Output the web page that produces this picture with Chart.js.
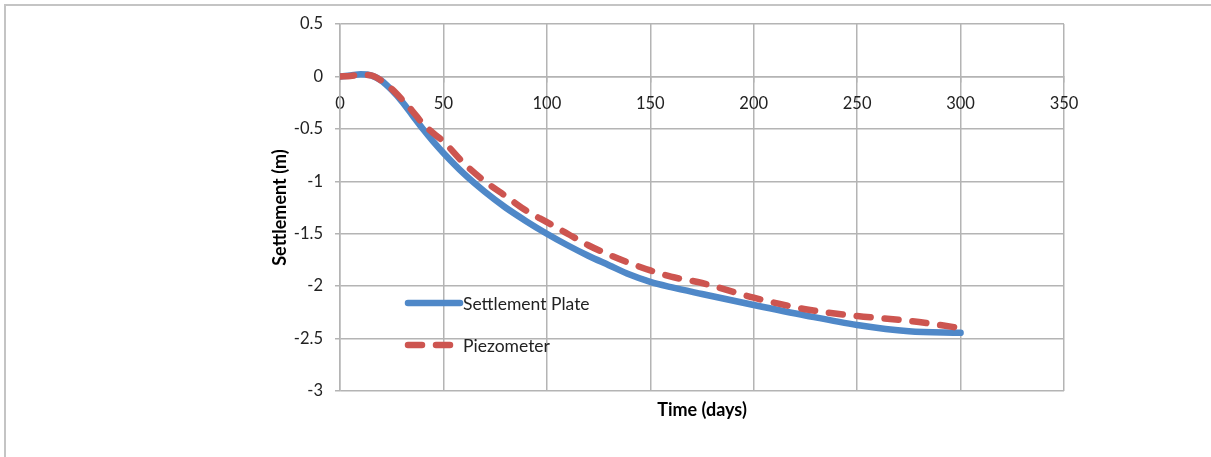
<!DOCTYPE html>
<html>
<head>
<meta charset="utf-8">
<script src="https://cdn.jsdelivr.net/npm/chart.js@4.4.1/dist/chart.umd.min.js"></script>
<style>
  html, body { margin: 0; padding: 0; background: #fff; }
  #wrap { position: relative; width: 1211px; height: 457px; }
  #frame { position: absolute; left: 4px; top: 4px; width: 1220px; height: 470px; border-top: 2px solid #c4c4c4; border-left: 2px solid #c4c4c4; box-sizing: border-box; pointer-events: none; }
  canvas { position: absolute; left: 0; top: 0; }
</style>
</head>
<body>
<div id="wrap">
  <canvas id="c" width="1211" height="457"></canvas>
  <div id="frame"></div>
</div>
<script>
const days = [0, 5, 10, 15, 20, 25, 30, 35, 40, 45, 50, 60, 70, 80, 90, 100, 110, 120, 130, 140, 150, 160, 175, 200, 225, 250, 275, 300];
const settlementPlate = [0, 0.01, 0.02, 0.01, -0.04, -0.13, -0.24, -0.37, -0.5, -0.62, -0.73, -0.93, -1.1, -1.25, -1.38, -1.5, -1.61, -1.71, -1.8, -1.89, -1.96, -2.01, -2.075, -2.18, -2.28, -2.37, -2.43, -2.445];
const piezometer = [0, 0.005, 0.015, 0.01, -0.04, -0.12, -0.22, -0.33, -0.45, -0.54, -0.62, -0.83, -1.0, -1.14, -1.28, -1.39, -1.5, -1.61, -1.7, -1.78, -1.85, -1.91, -1.97, -2.11, -2.22, -2.285, -2.33, -2.40];
const seriesNames = ['Settlement Plate', 'Piezometer'];
const xTicks = [0, 50, 100, 150, 200, 250, 300, 350];
const yTicks = [0.5, 0, -0.5, -1, -1.5, -2, -2.5, -3];
const xTitle = 'Time (days)';
const yTitle = 'Settlement (m)';

const BLUE = '#4f88c8';
const RED = '#cd5550';
const GRID = '#b4b4b4';
const FONT = 'Lato, "Open Sans", sans-serif';

const toPts = (ys) => days.map((d, i) => ({ x: d, y: ys[i] }));

const legendPlugin = {
  id: 'insideLegend',
  afterDatasetsDraw(chart) {
    const ctx = chart.ctx;
    const a = chart.chartArea;
    const items = chart.data.datasets;
    const x0 = a.left + 68, x1 = a.left + 120;
    const ys = [a.top + 279, a.top + 321];
    ctx.save();
    items.forEach((ds, i) => {
      ctx.beginPath();
      ctx.strokeStyle = ds.borderColor;
      ctx.lineWidth = ds.borderWidth;
      ctx.lineCap = 'round';
      ctx.setLineDash(ds.borderDash || []);
      ctx.moveTo(x0, ys[i]);
      ctx.lineTo(i === 0 ? x1 : x1 - 4, ys[i]);
      ctx.stroke();
      ctx.setLineDash([]);
      ctx.fillStyle = '#222';
      ctx.font = '17.5px ' + FONT;
      ctx.textBaseline = 'middle';
      ctx.textAlign = 'left';
      ctx.fillText(ds.label, a.left + 123, ys[i] + 1);
    });
    ctx.restore();
  }
};

new Chart(document.getElementById('c'), {
  type: 'line',
  data: {
    datasets: [
      {
        label: seriesNames[0],
        data: toPts(settlementPlate),
        borderColor: BLUE,
        borderWidth: 6.5,
        pointRadius: 0,
        cubicInterpolationMode: 'monotone',
        borderCapStyle: 'round',
        order: 1,
        fill: false
      },
      {
        label: seriesNames[1],
        data: toPts(piezometer),
        borderColor: RED,
        borderWidth: 6.5,
        borderDash: [14, 14],
        borderCapStyle: 'round',
        pointRadius: 0,
        cubicInterpolationMode: 'monotone',
        order: 0,
        fill: false
      }
    ]
  },
  options: {
    responsive: false,
    animation: false,
    events: [],
    layout: { padding: { left: 265, right: 147, top: 24, bottom: 0 } },
    plugins: { legend: { display: false }, tooltip: { enabled: false } },
    scales: {
      x: {
        type: 'linear',
        min: 0, max: 350,
        position: { y: 0 },
        afterBuildTicks: (s) => { s.ticks = xTicks.map(v => ({ value: v })); },
        afterFit: (s) => { s.height = 0; },
        grid: { color: GRID, lineWidth: 1.5, tickLength: 5, drawTicks: true },
        border: { color: GRID, width: 1.5 },
        ticks: { color: '#222', font: { family: FONT, size: 16.5 }, padding: 12, maxRotation: 0, callback: (v) => String(v) }
      },
      x2: {
        type: 'linear',
        axis: 'x',
        position: 'bottom',
        min: 0, max: 350,
        afterFit: (s) => { s.height = 66; },
        grid: { display: false, drawTicks: false },
        border: { display: false },
        ticks: { display: false },
        title: { display: true, text: xTitle, color: '#000', font: { family: FONT, size: 18, weight: 'bold' }, padding: { top: 0, bottom: 36 } }
      },
      y: {
        type: 'linear',
        min: -3, max: 0.5,
        afterBuildTicks: (s) => { s.ticks = yTicks.map(v => ({ value: v })); },
        afterFit: (s) => { s.width = 75; },
        grid: { color: GRID, lineWidth: 1.5, tickLength: 5 },
        border: { color: GRID, width: 1.5 },
        ticks: { color: '#222', font: { family: FONT, size: 16.5 }, padding: 12, callback: (v) => String(v) },
        title: { display: true, text: yTitle, color: '#000', font: { family: FONT, size: 18, weight: 'bold' }, padding: { top: 4, bottom: 4 } }
      }
    }
  },
  plugins: [legendPlugin]
});
</script>
</body>
</html>
